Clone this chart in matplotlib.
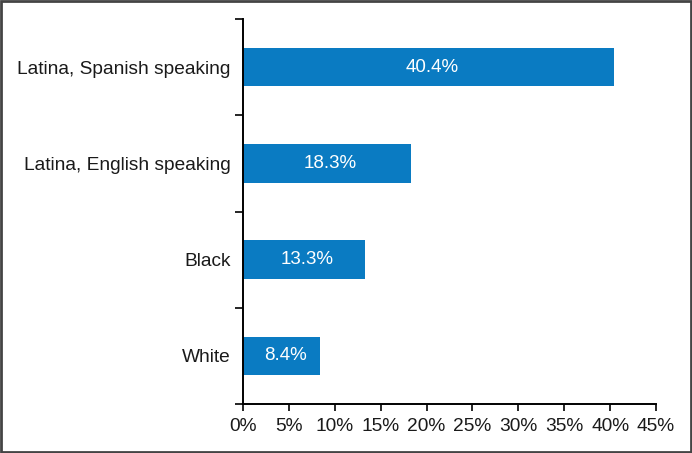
import matplotlib.pyplot as plt
from matplotlib.patches import Rectangle

# data, top to bottom as shown
groups = ["Latina, Spanish speaking", "Latina, English speaking", "Black", "White"]
rates = [40.4, 18.3, 13.3, 8.4]
xticks = [0, 5, 10, 15, 20, 25, 30, 35, 40, 45]

plt.rcParams['font.family'] = ['Liberation Sans', 'DejaVu Sans']

fig = plt.figure(figsize=(6.92, 4.53), dpi=100)
ax = fig.add_axes([0.351, 0.108, 0.597, 0.850])

ypos = list(range(len(groups)))[::-1]
bars = ax.barh(ypos, rates, height=0.4, color='#0a7bc2')
for b, v in zip(bars, rates):
    ax.text(b.get_width() / 2 + 0.4, b.get_y() + b.get_height() / 2, f"{v}%",
            ha='center', va='center', color='white', fontsize=13.5)

ax.set_xlim(0, 45)
ax.set_ylim(-0.5, len(groups) - 0.5)
ax.set_xticks(xticks)
ax.set_xticklabels([f"{t}%" for t in xticks], fontsize=13.8, color='#1a1a1a')
ax.set_yticks(ypos)
ax.set_yticklabels(groups, fontsize=13.8, color='#1a1a1a')
ax.set_yticks([i - 0.5 for i in range(len(groups) + 1)], minor=True)
ax.tick_params(axis='y', which='major', length=0, pad=9)
ax.tick_params(axis='y', which='minor', length=6, width=1.2)
ax.tick_params(axis='x', length=5, width=1.2, pad=5)

for s in ['top', 'right']:
    ax.spines[s].set_visible(False)
for s in ['left', 'bottom']:
    ax.spines[s].set_linewidth(1.4)

fig.patches.append(Rectangle((0.002, 0.003), 0.996, 0.994, transform=fig.transFigure,
                             fill=False, edgecolor='#444444', linewidth=2))

fig.savefig('out.png', dpi=100)
